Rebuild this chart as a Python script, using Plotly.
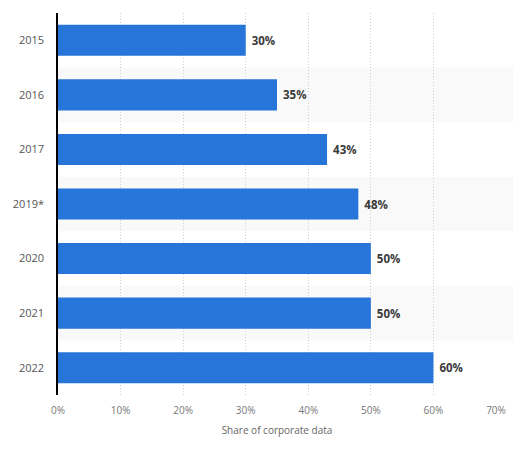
import plotly.graph_objects as go

years = ["2015", "2016", "2017", "2019*", "2020", "2021", "2022"]
share = [30, 35, 43, 48, 50, 50, 60]
tick_vals = [0, 10, 20, 30, 40, 50, 60, 70]
tick_text = [f"{v}%" for v in tick_vals]

BLUE = "#2775d9"

fig = go.Figure()
fig.add_trace(go.Bar(
    y=years, x=share, orientation="h",
    marker=dict(color=BLUE, line=dict(width=0)),
    width=0.57,
    text=[f" <b>{v}%</b>" for v in share],
    textposition="outside",
    textfont=dict(family="Open Sans", size=11.5, color="#3a3a3a"),
    cliponaxis=False,
    hoverinfo="skip",
))

# alternate row bands
for i in range(1, len(years), 2):
    fig.add_shape(type="rect", xref="paper", yref="y",
                  x0=0, x1=1.1, y0=i - 0.5, y1=i + 0.5,
                  fillcolor="#f9f9f9", line_width=0, layer="below")

fig.update_layout(
    width=521, height=450,
    margin=dict(l=50, r=33, t=5, b=63),
    plot_bgcolor="rgba(0,0,0,0)", paper_bgcolor="white",
    showlegend=False,
    font=dict(family="Open Sans", size=11, color="#555555"),
)
fig.update_xaxes(
    range=[0, 70], tickvals=tick_vals, ticktext=tick_text,
    tickfont=dict(size=10, color="#777777"),
    showgrid=True, gridcolor="#cfcfcf", griddash="1px,2px", gridwidth=1,
    zeroline=False, showline=False, ticks="", ticklen=0,
    ticklabelstandoff=8, automargin=False,
    title=dict(text="Share of corporate data", font=dict(size=10, color="#666666"), standoff=10),
)
fig.update_yaxes(
    categoryorder="array", categoryarray=years, autorange="reversed",
    showline=True, linecolor="#000000", linewidth=1.5,
    showgrid=False, ticks="", ticklabelstandoff=10, automargin=False,
    tickfont=dict(size=11, color="#555555"),
)

fig.write_html("out.html")
